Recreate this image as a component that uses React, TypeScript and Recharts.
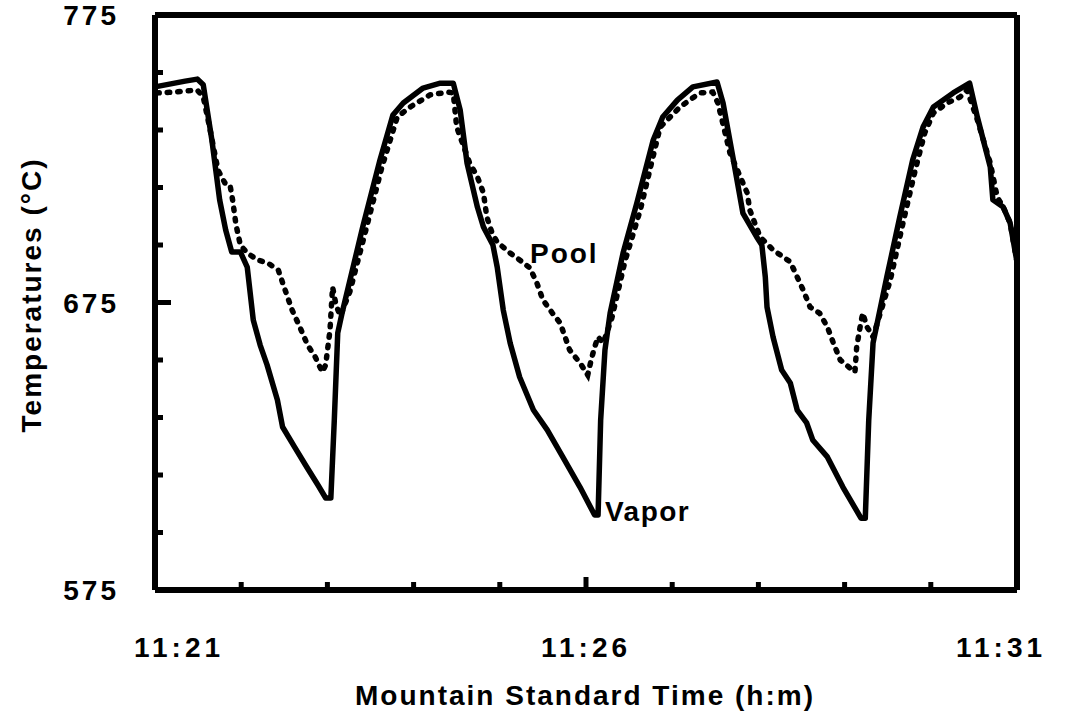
import React from 'react';
import { LineChart, Line, XAxis, YAxis, ReferenceLine, ReferenceDot } from 'recharts';

// time in minutes after 11:21, temperature in °C
const vaporTime = [0, 0.35, 0.49, 0.56, 0.66, 0.75, 0.82, 0.89, 0.99, 1.07, 1.14, 1.22, 1.30, 1.42, 1.48, 1.62, 1.76, 1.89, 1.98, 2.04, 2.08, 2.12, 2.17, 2.41, 2.61, 2.76, 2.88, 3.11, 3.31, 3.46, 3.54, 3.62, 3.74, 3.81, 3.92, 3.97, 4.04, 4.12, 4.23, 4.39, 4.55, 4.73, 4.93, 5.10, 5.14, 5.17, 5.22, 5.28, 5.43, 5.59, 5.78, 5.89, 6.06, 6.24, 6.52, 6.59, 6.71, 6.82, 6.98, 7.04, 7.08, 7.10, 7.17, 7.27, 7.37, 7.45, 7.56, 7.63, 7.80, 7.98, 8.19, 8.24, 8.28, 8.33, 8.49, 8.64, 8.79, 8.91, 9.03, 9.26, 9.45, 9.54, 9.69, 9.72, 9.84, 9.92, 10.0];
const vaporTemp = [750.0, 752.0, 752.7, 750.7, 731.5, 710.7, 700.2, 692.6, 692.6, 687.3, 668.9, 660.2, 653.3, 641.1, 631.7, 624.7, 617.8, 611.5, 607.0, 607.0, 634.1, 664.4, 671.3, 701.3, 724.6, 740.2, 744.4, 749.6, 751.3, 751.3, 742.0, 723.5, 708.2, 701.3, 695.0, 687.3, 672.4, 660.9, 649.1, 637.6, 630.7, 621.3, 610.8, 601.1, 601.1, 634.1, 658.5, 671.3, 692.2, 709.6, 731.5, 739.5, 745.4, 750.0, 751.7, 744.4, 724.6, 706.1, 697.8, 695.0, 683.9, 673.4, 663.0, 651.5, 647.0, 637.6, 633.1, 627.2, 621.3, 610.8, 600.0, 600.0, 634.1, 660.9, 683.9, 704.7, 724.6, 736.0, 743.0, 747.9, 751.3, 739.5, 722.1, 710.7, 708.2, 702.7, 689.1];

const poolTime = [0.02, 0.23, 0.49, 0.56, 0.64, 0.73, 0.81, 0.87, 0.90, 0.94, 0.99, 1.07, 1.19, 1.31, 1.43, 1.51, 1.59, 1.68, 1.77, 1.86, 1.94, 1.98, 2.03, 2.06, 2.10, 2.15, 2.26, 2.44, 2.63, 2.81, 2.96, 3.19, 3.40, 3.46, 3.50, 3.65, 3.74, 3.81, 3.85, 3.91, 3.97, 4.12, 4.23, 4.35, 4.43, 4.50, 4.61, 4.70, 4.81, 4.93, 5.02, 5.06, 5.10, 5.14, 5.20, 5.30, 5.45, 5.63, 5.86, 6.09, 6.32, 6.47, 6.53, 6.67, 6.79, 6.87, 6.90, 7.02, 7.17, 7.37, 7.45, 7.52, 7.60, 7.71, 7.80, 7.87, 7.95, 8.12, 8.14, 8.18, 8.21, 8.26, 8.33, 8.53, 8.68, 8.82, 8.93, 9.03, 9.19, 9.34, 9.42, 9.54, 9.69, 9.77, 9.84, 9.92, 10.0];
const poolTemp = [747.9, 748.2, 748.9, 746.5, 735.0, 721.1, 716.6, 715.9, 710.7, 702.0, 695.0, 692.2, 689.8, 688.7, 686.3, 679.3, 672.4, 666.5, 660.2, 656.0, 650.8, 653.3, 665.4, 680.4, 674.1, 670.3, 678.7, 699.5, 721.8, 739.5, 743.0, 747.2, 748.2, 747.9, 736.0, 723.5, 718.7, 713.1, 704.7, 699.2, 696.0, 692.2, 689.8, 687.0, 681.8, 675.9, 671.3, 667.9, 658.5, 654.0, 649.8, 655.0, 659.5, 663.0, 660.9, 669.6, 689.1, 707.2, 736.0, 743.0, 747.9, 748.2, 744.4, 727.0, 718.7, 713.1, 707.2, 697.8, 693.3, 689.1, 683.9, 679.3, 673.4, 671.3, 666.5, 660.9, 655.0, 650.8, 659.5, 666.5, 671.3, 666.5, 663.0, 682.8, 703.0, 721.1, 734.0, 740.9, 744.4, 746.5, 748.9, 738.5, 723.5, 711.7, 708.2, 702.7, 689.1];

const xTicks = [0, 1, 2, 3, 4, 5, 6, 7, 8, 9, 10];
const xTickLabels: Record<number, string> = { 0: '11:21', 5: '11:26', 10: '11:31' };
const yTicks = [575, 595, 615, 635, 655, 675, 695, 715, 735, 755, 775];
const yTickLabels = [575, 675, 775];

const vaporData = vaporTime.map((t, i) => ({ t, v: vaporTemp[i] }));
const poolData = poolTime.map((t, i) => ({ t, v: poolTemp[i] }));

const FONT = '"Liberation Sans", Arial, Helvetica, sans-serif';

const YTick = (props: any) => {
  const { x, y, payload } = props;
  const v = payload.value;
  const len = v === 675 ? 16 : 8;
  return (
    <g>
      {v !== 575 && v !== 775 && (
        <line x1={x} x2={x + len} y1={y} y2={y} stroke="#000" strokeWidth={5} />
      )}
      {yTickLabels.includes(v) && (
        <text x={x - 36} y={y} dy="0.36em" textAnchor="end" fontFamily={FONT} fontWeight="bold" fontSize={28} letterSpacing={3} fill="#000">
          {v}
        </text>
      )}
    </g>
  );
};

const XTick = (props: any) => {
  const { x, y, payload } = props;
  const v = payload.value;
  const len = v === 5 ? 13 : 8;
  const label = xTickLabels[v];
  const dx = v === 0 ? 24 : v === 10 ? -16 : 0;
  return (
    <g>
      {v !== 0 && v !== 10 && (
        <line x1={x} x2={x} y1={y} y2={y - len} stroke="#000" strokeWidth={5} />
      )}
      {label && (
        <text x={x + dx} y={y + 57} dy="0.36em" textAnchor="middle" fontFamily={FONT} fontWeight="bold" fontSize={28} letterSpacing={4} fill="#000">
          {label}
        </text>
      )}
    </g>
  );
};

const TextMark = (txt: string, ls: number) => (p: any) => (
  <text x={p.cx} y={p.cy} dy="0.36em" textAnchor="start" fontFamily={FONT} fontWeight="bold" fontSize={28} letterSpacing={ls} fill="#000">
    {txt}
  </text>
);

export default function App() {
  return (
    <div style={{ position: 'absolute', left: 0, top: 0, width: 1070, height: 715, background: '#fff' }}>
      <LineChart width={1070} height={715} margin={{ top: 15, right: 53, bottom: 0, left: 0 }}>
        <XAxis
          dataKey="t"
          type="number"
          domain={[0, 10]}
          ticks={xTicks}
          interval={0}
          height={125}
          tickSize={0}
          tickMargin={0}
          tickLine={false}
          axisLine={{ stroke: '#000', strokeWidth: 6 }}
          tick={<XTick />}
          allowDuplicatedCategory={false}
        />
        <YAxis
          dataKey="v"
          type="number"
          domain={[575, 775]}
          ticks={yTicks}
          interval={0}
          width={155}
          tickSize={0}
          tickMargin={0}
          tickLine={false}
          axisLine={{ stroke: '#000', strokeWidth: 6 }}
          tick={<YTick />}
        />
        <ReferenceLine y={775} stroke="#000" strokeWidth={6} />
        <ReferenceLine x={10} stroke="#000" strokeWidth={6} />
        <Line
          data={vaporData}
          dataKey="v"
          type="linear"
          stroke="#000"
          strokeWidth={5.5}
          strokeLinejoin="round"
          dot={false}
          isAnimationActive={false}
        />
        <Line
          data={poolData}
          dataKey="v"
          type="linear"
          stroke="#000"
          strokeWidth={5.5}
          strokeDasharray="2.5 8"
          strokeLinecap="round"
          dot={false}
          isAnimationActive={false}
        />
        <ReferenceDot x={4.35} y={692.2} r={0} shape={TextMark('Pool', 2)} />
        <ReferenceDot x={5.22} y={602.5} r={0} shape={TextMark('Vapor', 1.5)} />
      </LineChart>
      <svg width={1070} height={715} style={{ position: 'absolute', left: 0, top: 0, pointerEvents: 'none' }}>
        <text
          transform="translate(31, 295) rotate(-90)"
          textAnchor="middle"
          dy="0.36em"
          fontFamily={FONT}
          fontWeight="bold"
          fontSize={28}
          letterSpacing={2}
          fill="#000"
        >
          Temperatures (°C)
        </text>
        <text x={585} y={695} dy="0.36em" textAnchor="middle" fontFamily={FONT} fontWeight="bold" fontSize={28} letterSpacing={2} fill="#000">
          Mountain Standard Time (h:m)
        </text>
      </svg>
    </div>
  );
}
